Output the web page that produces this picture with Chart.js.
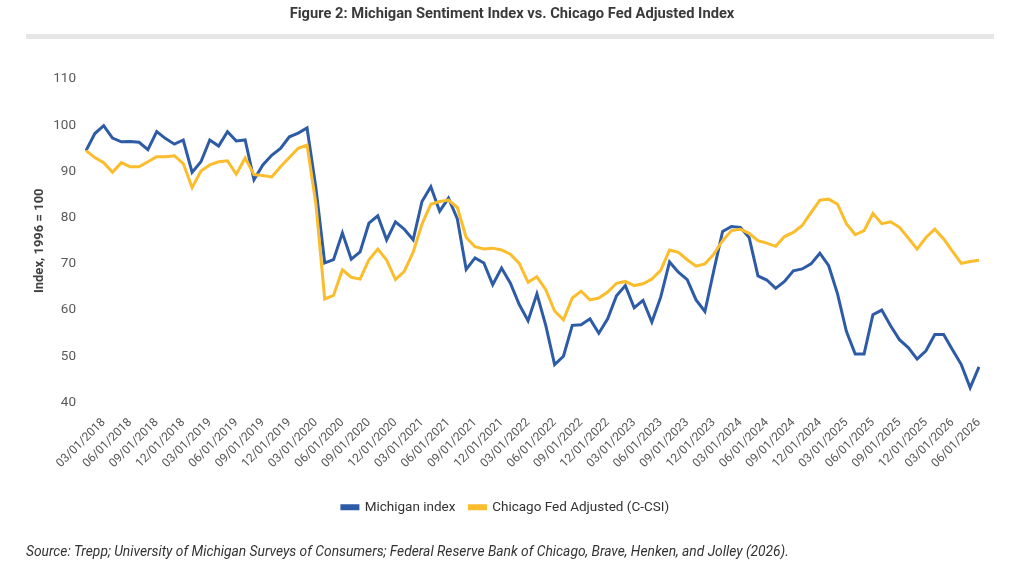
<!DOCTYPE html>
<html><head><meta charset="utf-8">
<script src="https://cdn.jsdelivr.net/npm/chart.js@4.4.1/dist/chart.umd.min.js"></script>
<style>
html,body{margin:0;padding:0;background:#fff;width:1024px;height:565px;overflow:hidden;}
#wrap{position:relative;width:1024px;height:565px;}
#title{position:absolute;left:0;top:4px;width:1024px;text-align:center;font-family:Roboto,sans-serif;font-weight:bold;font-size:14.7px;color:#3a3a3a;}
#bar{position:absolute;left:26px;top:34px;width:968px;height:5px;background:#e6e6e6;}
#src{position:absolute;left:26px;top:543px;font-family:Roboto,sans-serif;font-style:italic;font-size:13.8px;color:#333;white-space:nowrap;}
canvas{position:absolute;left:0;top:0;}
</style></head>
<body><div id="wrap">
<canvas id="c" width="1024" height="565"></canvas>
<div id="title">Figure 2: Michigan Sentiment Index vs. Chicago Fed Adjusted Index</div>
<div id="bar"></div>
<div id="src">Source: Trepp; University of Michigan Surveys of Consumers; Federal Reserve Bank of Chicago, Brave, Henken, and Jolley (2026).</div>
</div>
<script>
const categories = [
"01/01/2018","02/01/2018","03/01/2018","04/01/2018","05/01/2018","06/01/2018","07/01/2018","08/01/2018","09/01/2018","10/01/2018","11/01/2018","12/01/2018",
"01/01/2019","02/01/2019","03/01/2019","04/01/2019","05/01/2019","06/01/2019","07/01/2019","08/01/2019","09/01/2019","10/01/2019","11/01/2019","12/01/2019",
"01/01/2020","02/01/2020","03/01/2020","04/01/2020","05/01/2020","06/01/2020","07/01/2020","08/01/2020","09/01/2020","10/01/2020","11/01/2020","12/01/2020",
"01/01/2021","02/01/2021","03/01/2021","04/01/2021","05/01/2021","06/01/2021","07/01/2021","08/01/2021","09/01/2021","10/01/2021","11/01/2021","12/01/2021",
"01/01/2022","02/01/2022","03/01/2022","04/01/2022","05/01/2022","06/01/2022","07/01/2022","08/01/2022","09/01/2022","10/01/2022","11/01/2022","12/01/2022",
"01/01/2023","02/01/2023","03/01/2023","04/01/2023","05/01/2023","06/01/2023","07/01/2023","08/01/2023","09/01/2023","10/01/2023","11/01/2023","12/01/2023",
"01/01/2024","02/01/2024","03/01/2024","04/01/2024","05/01/2024","06/01/2024","07/01/2024","08/01/2024","09/01/2024","10/01/2024","11/01/2024","12/01/2024",
"01/01/2025","02/01/2025","03/01/2025","04/01/2025","05/01/2025","06/01/2025","07/01/2025","08/01/2025","09/01/2025","10/01/2025","11/01/2025","12/01/2025",
"01/01/2026","02/01/2026","03/01/2026","04/01/2026","05/01/2026","06/01/2026"
];
const michigan = [
94.5,98.2,99.9,97.2,96.4,96.5,96.3,94.7,98.6,97.1,95.9,96.8,
89.8,92.1,96.8,95.5,98.6,96.6,96.8,88.2,91.4,93.5,95.0,97.5,
98.3,99.4,86.5,70.2,70.9,76.7,71.0,72.6,78.8,80.4,75.2,79.1,
77.5,75.2,83.5,86.7,81.4,84.2,79.7,68.8,71.3,70.2,65.5,69.1,
65.8,61.2,57.7,63.5,56.7,48.2,50.0,56.7,56.8,58.1,55.0,58.1,
63.1,65.3,60.5,62.1,57.4,62.8,70.4,68.2,66.6,62.2,59.7,68.5,
77.0,78.1,77.9,75.7,67.4,66.5,64.7,66.2,68.5,68.9,70.0,72.3,
69.6,63.5,55.4,50.5,50.5,59.0,60.0,56.6,53.6,51.9,49.4,51.2,
54.7,54.7,51.4,48.2,43.2,47.7
];
const chicagoFed = [
94.5,93.0,91.9,89.8,91.9,91.0,91.0,92.1,93.2,93.2,93.4,91.7,
86.5,90.1,91.4,92.1,92.3,89.4,92.9,89.3,89.1,88.8,91.0,93.0,
95.0,95.7,83.0,62.4,63.2,68.7,67.1,66.7,70.9,73.2,70.8,66.6,
68.4,72.5,78.6,82.9,83.5,83.8,82.2,75.7,73.7,73.2,73.4,73.0,
72.1,70.1,66.0,67.2,64.4,59.8,57.9,62.6,64.1,62.2,62.6,63.9,
65.8,66.2,65.3,65.7,66.7,68.6,73.0,72.5,70.9,69.5,70.0,72.1,
75.0,77.2,77.5,76.6,75.0,74.5,73.8,75.9,76.8,78.3,81.1,83.8,
84.0,82.9,78.7,76.3,77.2,80.9,78.7,79.1,77.9,75.6,73.2,75.7,
77.5,75.4,72.7,70.1,70.5,70.8
];
const tickLabels = [
"03/01/2018","06/01/2018","09/01/2018","12/01/2018","03/01/2019","06/01/2019","09/01/2019","12/01/2019",
"03/01/2020","06/01/2020","09/01/2020","12/01/2020","03/01/2021","06/01/2021","09/01/2021","12/01/2021",
"03/01/2022","06/01/2022","09/01/2022","12/01/2022","03/01/2023","06/01/2023","09/01/2023","12/01/2023",
"03/01/2024","06/01/2024","09/01/2024","12/01/2024","03/01/2025","06/01/2025","09/01/2025","12/01/2025",
"03/01/2026","06/01/2026"
];
const yTicks = [40,50,60,70,80,90,100,110];
const seriesNames = ["Michigan index","Chicago Fed Adjusted (C-CSI)"];
const BLUE = "#2E5BA6", GOLD = "#FBBD2C";

const tickSet = new Set(tickLabels);
new Chart(document.getElementById('c'), {
  type: 'line',
  data: {
    labels: categories,
    datasets: [
      {label: seriesNames[0], data: michigan, borderColor: BLUE, backgroundColor: BLUE, borderWidth: 3, pointRadius: 0, tension: 0, order: 1},
      {label: seriesNames[1], data: chicagoFed, borderColor: GOLD, backgroundColor: GOLD, borderWidth: 3, pointRadius: 0, tension: 0, order: 0}
    ]
  },
  options: {
    responsive: false,
    animation: false,
    layout: {padding: {left: 32, right: 45, top: 79, bottom: 41}},
    plugins: {
      title: {display: false},
      tooltip: {enabled: false},
      legend: {
        position: 'bottom',
        labels: {
          boxWidth: 16, boxHeight: 3, padding: 14,
          color: '#333', font: {family: 'Roboto', size: 13.5},
          sort: function(a, b) { return a.datasetIndex - b.datasetIndex; }
        }
      }
    },
    scales: {
      x: {
        type: 'category',
        offset: false,
        grid: {display: false, drawTicks: false},
        border: {display: false},
        ticks: {
          autoSkip: false, minRotation: 45, maxRotation: 45, padding: 13,
          color: '#555', font: {family: 'Roboto', size: 12},
          callback: function(v, i) { const l = categories[i]; return tickSet.has(l) ? l : ''; }
        },
        afterFit: function(s) { s.height = 84; s.paddingLeft = 0; s.paddingRight = 0; }
      },
      y: {
        min: 40, max: 110,
        afterBuildTicks: function(s) { s.ticks = yTicks.map(v => ({value: v})); },
        grid: {display: false, drawTicks: false},
        border: {display: false},
        ticks: {padding: 10, color: '#595959', font: {family: 'Roboto', size: 13.5}},
        title: {display: true, text: 'Index, 1996 = 100', color: '#404040', padding: 0, font: {family: 'Roboto', size: 13, weight: 'bold'}},
        afterFit: function(s) { s.width = 54; }
      }
    }
  }
});
</script>
</body></html>
